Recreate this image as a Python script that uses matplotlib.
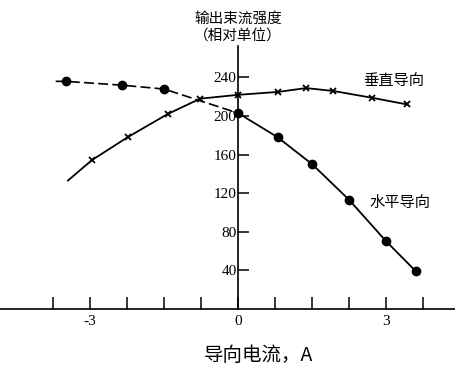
import matplotlib
matplotlib.use('Agg')
import numpy as np
from matplotlib import pyplot as plt

plt.rcParams['font.family'] = ['Noto Sans CJK SC', 'DejaVu Sans']

# 水平导向 (dots)
h_x = [-3.5, -2.35, -1.5, 0.0, 0.8, 1.5, 2.25, 3.0, 3.6]
h_y = [236, 232, 228, 203, 178, 150, 113, 70, 39]
h_start = (-3.7, 236)

# 垂直导向 (crosses)
v_x = [-2.97, -2.24, -1.43, -0.77, 0.0, 0.81, 1.38, 1.93, 2.71, 3.43]
v_y = [154, 178, 202, 218, 222, 225, 229, 226, 219, 212]
v_start = (-3.45, 133)

yticks = [40, 80, 120, 160, 200, 240]
xticks = [-3, 0, 3]
xminor = [-3.75, -2.25, -1.5, -0.75, 0.75, 1.5, 2.25, 3.75]

fig = plt.figure(figsize=(4.56, 3.66), dpi=100)
ax = fig.add_axes([0, 0, 1, 1])
ax.set_xlim(-4.83, 4.42)
ax.set_ylim(-59.7, 320.5)

ax.spines['top'].set_visible(False)
ax.spines['right'].set_visible(False)
ax.spines['left'].set_position(('data', 0))
ax.spines['bottom'].set_position(('data', 0))
ax.spines['left'].set_bounds(0, 273)
for s in ('left', 'bottom'):
    ax.spines[s].set_linewidth(1.2)

serif = 'Liberation Serif'
ax.set_yticks(yticks)
ax.set_yticklabels([str(t) for t in yticks], family=serif, fontsize=11)
ax.set_xticks(xticks)
ax.set_xticklabels([str(t) for t in xticks], family=serif, fontsize=11)
ax.set_xticks(xminor, minor=True)
ax.tick_params(axis='y', direction='in', length=8, width=1.1, pad=1)
ax.tick_params(axis='x', which='both', direction='in', length=9, width=1.1, pad=5)

# horizontal steering: dashed left of zero, solid right
hx = np.array([h_start[0]] + h_x)
hy = np.array([h_start[1]] + h_y)
left = hx <= 0
ax.plot(hx[left], hy[left], color='black', lw=1.2, linestyle=(0, (6, 2.5)))
ax.plot(hx[hx >= 0], hy[hx >= 0], color='black', lw=1.3)
ax.plot(h_x, h_y, 'o', color='black', ms=6)

vx = [v_start[0]] + v_x
vy = [v_start[1]] + v_y
ax.plot(vx, vy, color='black', lw=1.3)
ax.plot(v_x, v_y, 'x', color='black', ms=5, mew=1.3)

ax.text(0, 301, '输出束流强度', ha='center', va='center', fontsize=10.5)
ax.text(0, 283, '（相对单位）', ha='center', va='center', fontsize=10.5)
ax.text(3.16, 237, '垂直导向', ha='center', va='center', fontsize=11)
ax.text(3.29, 110, '水平导向', ha='center', va='center', fontsize=11)
ax.text(0.42, -49, '导向电流，A', ha='center', va='center', fontsize=14)

fig.savefig('out.png', dpi=100)
